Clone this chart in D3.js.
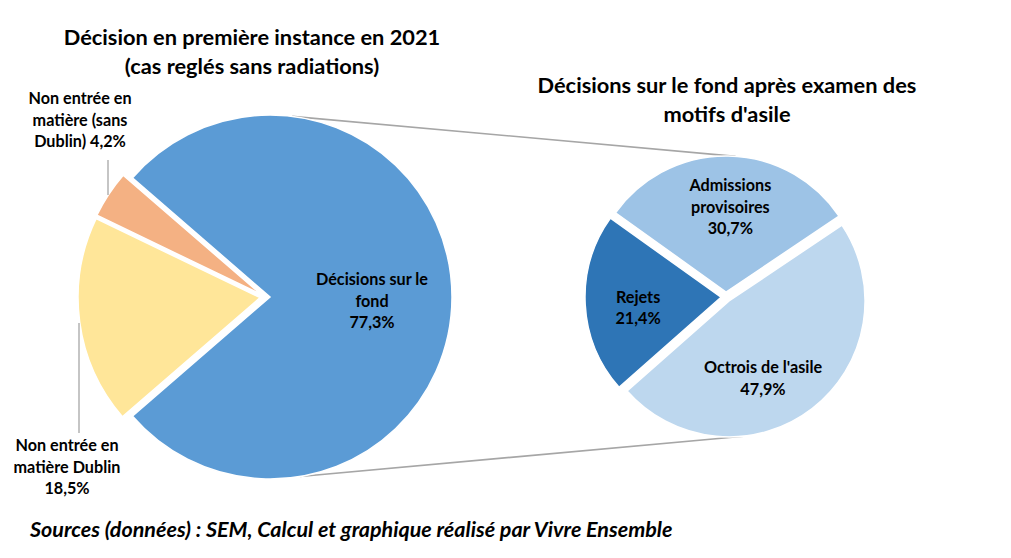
<!DOCTYPE html>
<html>
<head>
<meta charset="utf-8">
<script src="https://cdn.jsdelivr.net/npm/d3@7"></script>
<style>
  body { margin: 0; background: #fff; }
  text { font-family: Lato, "Liberation Sans", sans-serif; font-weight: bold; fill: #000; }
</style>
</head>
<body>
<div id="chart"></div>
<script>
// Data
const mainCategories = ["Décisions sur le fond", "Non entrée en matière Dublin", "Non entrée en matière (sans Dublin)"];
const mainValues = [77.3, 18.5, 4.2];
const mainLabelLines = [
  ["Décisions sur le", "fond", "{v}"],
  ["Non entrée en", "matière Dublin", "{v}"],
  ["Non entrée en", "matière (sans", "Dublin) {v}"]
];

const subCategories = ["Admissions provisoires", "Octrois de l'asile", "Rejets"];
const subValues = [30.7, 47.9, 21.4];
const subLabelLines = [
  ["Admissions", "provisoires", "{v}"],
  ["Octrois de l'asile", "{v}"],
  ["Rejets", "{v}"]
];

const titleLeft = ["Décision en première instance en 2021", "(cas reglés sans radiations)"];
const titleRight = ["Décisions sur le fond après examen des", "motifs d'asile"];
const sourceText = "Sources (données) : SEM, Calcul et graphique réalisé par Vivre Ensemble";

const mainColors = ["#5b9bd5", "#ffe699", "#f4b183"];
const subColors = ["#9dc3e6", "#bdd7ee", "#2e75b6"];

// Layout
const width = 1011, height = 558;
const explode = 5;
const left = { cx: 265, cy: 297, r: 182 };
const right = { cx: 726, cy: 297, r: 136 };

const fr = d3.formatLocale({ decimal: ",", thousands: " ", grouping: [3], currency: ["", "€"] });
const pct = v => fr.format(".1f")(v) + "%";

const svg = d3.select("#chart")
  .append("svg")
  .attr("width", width)
  .attr("height", height);

svg.append("rect").attr("width", width).attr("height", height).attr("fill", "#fff");

function offsetOf(d) {
  const mid = (d.startAngle + d.endAngle) / 2;
  return [Math.sin(mid) * explode, -Math.cos(mid) * explode];
}

function drawPie(cfg, values, colors, startAngle) {
  const pie = d3.pie().sort(null).value(d => d)
    .startAngle(startAngle).endAngle(startAngle + 2 * Math.PI);
  const arcs = pie(values);
  const arc = d3.arc().innerRadius(0).outerRadius(cfg.r);
  const g = svg.append("g").attr("transform", `translate(${cfg.cx},${cfg.cy})`);
  g.selectAll("path")
    .data(arcs)
    .enter()
    .append("path")
    .attr("transform", d => `translate(${offsetOf(d)})`)
    .attr("d", arc)
    .attr("fill", (d, i) => colors[i])
    .attr("stroke", "#fff")
    .attr("stroke-width", 1.5);
  return { g, arcs };
}

function multiLine(parent, x, y, lines, size, lh) {
  const t = parent.append("text")
    .attr("text-anchor", "middle")
    .attr("font-size", size);
  const y0 = y - (lines.length - 1) * lh / 2 + size * 0.35;
  lines.forEach((s, i) => {
    t.append("tspan").attr("x", x).attr("y", y0 + i * lh).text(s);
  });
  return t;
}

// Connector lines between the two pies (drawn first, behind)
const conn = svg.append("g").attr("stroke", "#a6a6a6").attr("stroke-width", 1.6).attr("fill", "none");

// Left pie: the big slice is centered on 3 o'clock
const leftStart = Math.PI / 2 - (mainValues[0] / d3.sum(mainValues)) * Math.PI;
const L = drawPie(left, mainValues, mainColors, leftStart);

// Right pie
const rightStart = -54.4 * Math.PI / 180;
const R = drawPie(right, subValues, subColors, rightStart);

function pointOn(cfg, d, angleDeg) {
  const a = angleDeg * Math.PI / 180;
  const o = offsetOf(d);
  return [cfg.cx + o[0] + Math.sin(a) * cfg.r, cfg.cy + o[1] - Math.cos(a) * cfg.r];
}
const lt = pointOn(left, L.arcs[0], 7), lb = pointOn(left, L.arcs[0], 170.5);
const rt = pointOn(right, R.arcs[0], 4), rb = pointOn(right, R.arcs[1], 174);
conn.append("line").attr("x1", lt[0]).attr("y1", lt[1]).attr("x2", rt[0]).attr("y2", rt[1]);
conn.append("line").attr("x1", lb[0]).attr("y1", lb[1]).attr("x2", rb[0]).attr("y2", rb[1]);
conn.lower();
svg.select("rect").lower();

// Labels
const labelSize = 16.2, labelLh = 21.5;
const fill = (lines, v) => lines.map(s => s.replace("{v}", pct(v)));

// Inside label for the big slice
{
  const d = L.arcs[0], o = offsetOf(d);
  const c = d3.arc().innerRadius(0).outerRadius(2 * 102).centroid(d);
  multiLine(svg, left.cx + o[0] + c[0], left.cy + o[1] + c[1] + 4, fill(mainLabelLines[0], mainValues[0]), labelSize, labelLh);
}

// Outside labels with leader lines
const outside = [
  { i: 1, x: 67, y: 467, lx: 79, ly1: 323, ly2: 433 },
  { i: 2, x: 80, y: 120, lx: 108, ly1: 160, ly2: 195 }
];
const leaders = svg.append("g").attr("stroke", "#a6a6a6").attr("stroke-width", 1.3);
outside.forEach(p => {
  multiLine(svg, p.x, p.y, fill(mainLabelLines[p.i], mainValues[p.i]), labelSize, labelLh);
  leaders.append("line").attr("x1", p.lx).attr("x2", p.lx).attr("y1", p.ly1).attr("y2", p.ly2);
});

// Right pie labels
const subNudge = [[3, 0], [-18, 10], [2, 6]];
R.arcs.forEach((d, i) => {
  const o = offsetOf(d);
  const c = d3.arc().innerRadius(0).outerRadius(2 * 85).centroid(d);
  multiLine(svg, right.cx + o[0] + c[0] + subNudge[i][0], right.cy + o[1] + c[1] + subNudge[i][1],
    fill(subLabelLines[i], subValues[i]), labelSize, labelLh);
});

// Titles
multiLine(svg, 252, 52, titleLeft, 21.8, 29.5);
multiLine(svg, 727, 100, titleRight, 21.8, 29);

// Source
svg.append("text")
  .attr("x", 30)
  .attr("y", 537)
  .attr("font-size", 21.5)
  .attr("font-style", "italic")
  .text(sourceText);
</script>
</body>
</html>
